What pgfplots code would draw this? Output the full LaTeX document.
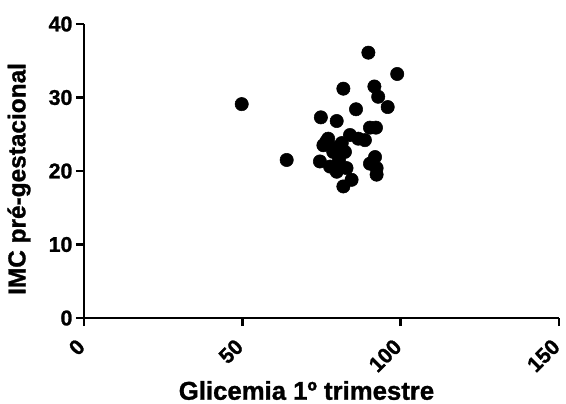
\documentclass[border=0pt]{standalone}
\usepackage{pgfplots}
\pgfplotsset{compat=1.18}
\usepackage{fontspec}
\setmainfont{Liberation Sans}[BoldFeatures={FakeBold=1.2}]
\begin{document}
\begin{tikzpicture}
\begin{axis}[
  scale only axis,
  width=356.25pt, height=220.5pt,
  xmin=0, xmax=150, ymin=0, ymax=40,
  axis x line=bottom, axis y line=left,
  axis line style={line width=2pt, -},
  xtick={0,50,100,150}, ytick={0,10,20,30,40},
  tick style={line width=2pt, black},
  major tick length=6pt,
  tick align=outside,
  /pgf/number format/assume math mode=true,
  ticklabel style={font=\fontsize{16}{18}\selectfont\bfseries},
  x tick label style={xshift=-6.3pt, yshift=-7.1pt, rotate=45, anchor=north east, inner sep=1pt},
  y tick label style={inner sep=1pt, xshift=-1.5pt},
  xlabel={\fontsize{19.3}{22}\selectfont\bfseries Glicemia 1º trimestre},
  ylabel={\fontsize{18.3}{21}\selectfont\bfseries IMC pré-gestacional},
  xlabel style={at={(axis description cs:0.4684,-0.278)}, anchor=base},
  ylabel style={at={(axis description cs:-0.1368,0.473)}, anchor=center},
  clip=false,
]
\addplot[only marks, mark=*, mark size=5pt, mark options={fill=black, draw=black}] coordinates {
(89.8,36.1)
(98.9,33.2)
(81.9,31.2)
(91.7,31.5)
(92.9,30.1)
(49.8,29.1)
(95.9,28.7)
(85.9,28.4)
(74.8,27.3)
(79.8,26.8)
(90.3,25.9)
(92.2,25.9)
(77.1,24.4)
(75.6,23.5)
(84.0,24.9)
(86.6,24.4)
(88.7,24.2)
(81.4,23.8)
(78.7,22.6)
(82.4,22.6)
(80.0,23.2)
(76.5,24.0)
(74.5,21.3)
(77.7,20.6)
(79.8,19.9)
(82.9,20.4)
(80.5,21.5)
(91.9,21.9)
(90.3,21.0)
(92.4,20.4)
(92.4,19.5)
(84.5,18.8)
(81.9,17.9)
(64.0,21.5)
};
\coordinate (tl) at (rel axis cs:0,1);
\coordinate (br) at (rel axis cs:1,0);
\end{axis}
\pgfresetboundingbox
\path ([xshift=-63pt,yshift=18pt]tl) rectangle ([xshift=5.25pt,yshift=-63.75pt]br);
\end{tikzpicture}
\end{document}
